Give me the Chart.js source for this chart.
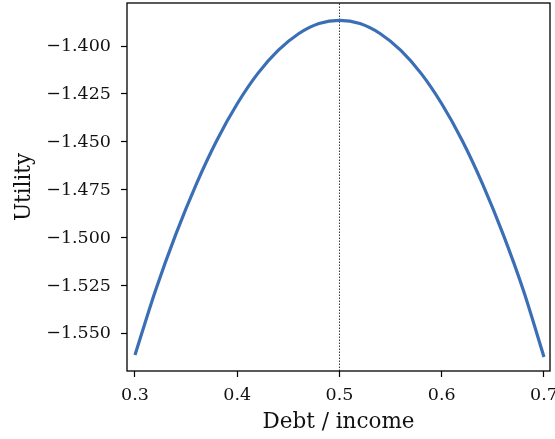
<!DOCTYPE html>
<html>
<head>
<meta charset="utf-8">
<title>Utility vs debt / income</title>
<script src="https://cdn.jsdelivr.net/npm/chart.js@4.4.1/dist/chart.umd.min.js"></script>
<style>
  html, body { margin: 0; padding: 0; background: #ffffff; }
  #wrap { width: 555px; height: 439px; }
</style>
</head>
<body>
<div id="wrap"><canvas id="utilityChart" width="555" height="439"></canvas></div>
<script>
// Debt / income ratios and the utility at each one
const debtRatio = [0.30, 0.32, 0.34, 0.36, 0.38, 0.40, 0.42, 0.44, 0.46, 0.48, 0.50,
                   0.52, 0.54, 0.56, 0.58, 0.60, 0.62, 0.64, 0.66, 0.68, 0.70];
const utility = [-1.561, -1.5275, -1.498, -1.4719, -1.4492, -1.4301, -1.4144, -1.4023, -1.3936, -1.3883, -1.3866,
                 -1.3883, -1.3936, -1.4023, -1.4144, -1.4301, -1.4492, -1.4719, -1.498, -1.5275, -1.562];

// Optimal ratio, marked with a dotted line
const optimum = 0.5;

// Axis ranges and ticks
const xRange = [0.2922, 0.7059];
const yRange = [-1.5693, -1.3776];
const xTicks = [0.3, 0.4, 0.5, 0.6, 0.7];
const yTicks = [-1.55, -1.525, -1.5, -1.475, -1.45, -1.425, -1.4];

const FONT = '"DejaVu Serif", "Liberation Serif", serif';

// matplotlib-style box around the plot area
const frame = {
    id: 'frame',
    afterDraw(chart) {
        const { ctx, chartArea: a } = chart;
        ctx.save();
        ctx.strokeStyle = '#000';
        ctx.lineWidth = 1.3;
        ctx.strokeRect(a.left, a.top, a.right - a.left, a.bottom - a.top);
        ctx.restore();
    }
};

const white = {
    id: 'white',
    beforeDraw(chart) {
        const { ctx, width, height } = chart;
        ctx.save();
        ctx.fillStyle = '#fff';
        ctx.fillRect(0, 0, width, height);
        ctx.restore();
    }
};

new Chart(document.getElementById('utilityChart'), {
    type: 'line',
    data: {
        datasets: [
            {
                label: 'Utility',
                data: debtRatio.map((x, i) => ({ x: x, y: utility[i] })),
                borderColor: '#3a6eb5',
                borderWidth: 3.2,
                pointRadius: 0,
                cubicInterpolationMode: 'monotone',
                fill: false
            },
            {
                label: 'Optimum',
                data: [{ x: optimum, y: yRange[0] }, { x: optimum, y: yRange[1] }],
                borderColor: '#333',
                borderWidth: 1,
                borderDash: [1.5, 1.5],
                pointRadius: 0,
                fill: false
            }
        ]
    },
    options: {
        responsive: false,
        devicePixelRatio: 1,
        animation: false,
        layout: { padding: { top: 3, right: 5, left: 0, bottom: 0 } },
        plugins: {
            legend: { display: false },
            tooltip: { enabled: false }
        },
        scales: {
            x: {
                type: 'linear',
                min: xRange[0],
                max: xRange[1],
                afterBuildTicks: s => { s.ticks = xTicks.map(v => ({ value: v })); },
                afterFit: s => { s.height = 68; s.paddingLeft = 0; s.paddingRight = 0; },
                border: { display: false },
                grid: { drawOnChartArea: false, tickLength: 6, tickColor: '#000', tickWidth: 1.2 },
                ticks: {
                    color: '#111',
                    padding: 8,
                    maxRotation: 0,
                    font: { family: FONT, size: 17.5 },
                    callback: v => v.toFixed(1)
                },
                title: {
                    display: true,
                    text: 'Debt / income',
                    color: '#111',
                    font: { family: FONT, size: 21.5 },
                    padding: { top: 0, bottom: 4 }
                }
            },
            y: {
                type: 'linear',
                min: yRange[0],
                max: yRange[1],
                afterBuildTicks: s => { s.ticks = yTicks.map(v => ({ value: v })); },
                afterFit: s => { s.width = 127; s.paddingTop = 0; s.paddingBottom = 0; },
                border: { display: false },
                grid: { drawOnChartArea: false, tickLength: 6, tickColor: '#000', tickWidth: 1.2 },
                ticks: {
                    color: '#111',
                    padding: 10,
                    font: { family: FONT, size: 17.5 },
                    callback: v => '\u2212' + Math.abs(v).toFixed(3)
                },
                title: {
                    display: true,
                    text: 'Utility',
                    color: '#111',
                    font: { family: FONT, size: 21.5 },
                    padding: { top: 12, bottom: 0 }
                }
            }
        }
    },
    plugins: [white, frame]
});
</script>
</body>
</html>
